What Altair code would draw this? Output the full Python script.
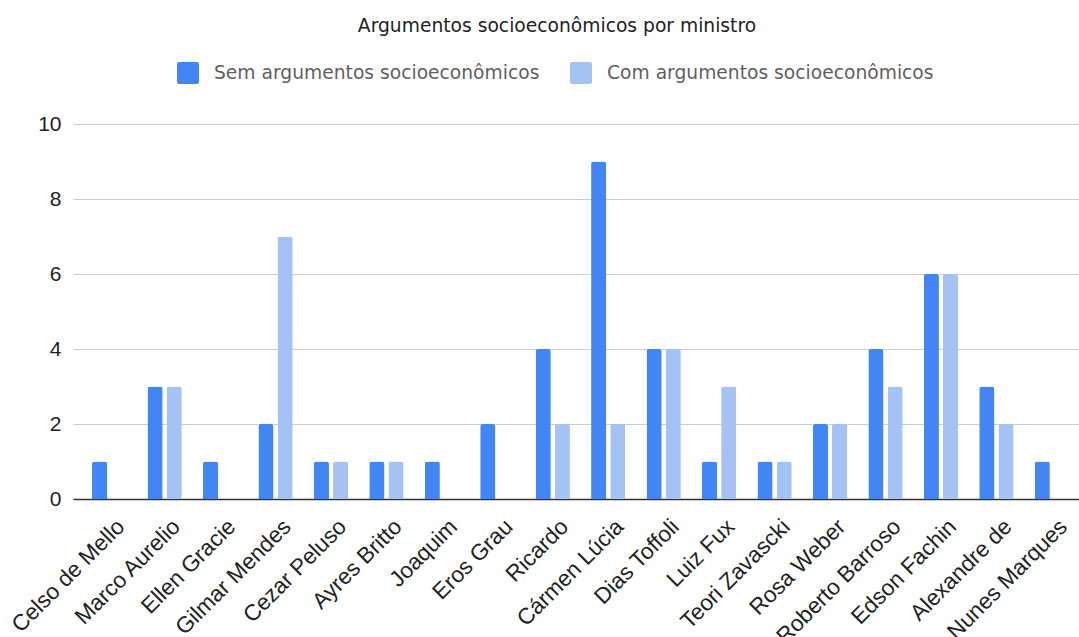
import altair as alt
import pandas as pd

ministros = [
    "Celso de Mello", "Marco Aurelio", "Ellen Gracie", "Gilmar Mendes",
    "Cezar Peluso", "Ayres Britto", "Joaquim", "Eros Grau", "Ricardo",
    "Cármen Lúcia", "Dias Toffoli", "Luiz Fux", "Teori Zavascki",
    "Rosa Weber", "Roberto Barroso", "Edson Fachin", "Alexandre de",
    "Nunes Marques",
]
sem_args = [1, 3, 1, 2, 1, 1, 1, 2, 4, 9, 4, 1, 1, 2, 4, 6, 3, 1]
com_args = [0, 3, 0, 7, 1, 1, 0, 0, 2, 2, 4, 3, 1, 2, 3, 6, 2, 0]
series = ["Sem argumentos socioeconômicos", "Com argumentos socioeconômicos"]
colors = ["#4285F4", "#A4C2F4"]
y_ticks = [0, 2, 4, 6, 8, 10]

rows = []
for nome, s, c in zip(ministros, sem_args, com_args):
    rows.append({"ministro": nome, "serie": series[0], "valor": s})
    rows.append({"ministro": nome, "serie": series[1], "valor": c})
df = pd.DataFrame(rows)

# rounded square used as the legend swatch
swatch = ("M-0.8,-1 L0.8,-1 Q1,-1 1,-0.8 L1,0.8 Q1,1 0.8,1 L-0.8,1 "
          "Q-1,1 -1,0.8 L-1,-0.8 Q-1,-1 -0.8,-1 Z")

label_font = "Liberation Sans"
title_font = "DejaVu Sans"

chart = alt.Chart(df).mark_bar(
    cornerRadiusTopLeft=2.5, cornerRadiusTopRight=2.5
).encode(
    x=alt.X(
        "ministro:N",
        sort=ministros,
        title=None,
        scale=alt.Scale(paddingInner=0.3815, paddingOuter=0.343, range=[0, 1015]),
        axis=alt.Axis(
            labelAngle=-45, labelAlign="right", labelBaseline="top",
            labelFont=label_font, labelFontSize=22.5, labelColor="#222222",
            labelPadding=16, labelOffset=4, labelLimit=400,
            ticks=False, grid=False,
            domainColor="#333333", domainWidth=1.7,
        ),
    ),
    xOffset=alt.XOffset(
        "serie:N", sort=series,
        scale=alt.Scale(paddingInner=0.209, paddingOuter=0),
    ),
    y=alt.Y(
        "valor:Q",
        title=None,
        scale=alt.Scale(domain=[0, 10], nice=False),
        axis=alt.Axis(
            values=y_ticks, labelFont=label_font, labelFontSize=21,
            labelColor="#222222", labelPadding=12, ticks=False, domain=False,
            gridColor="#cccccc", gridWidth=1.2,
        ),
    ),
    color=alt.Color(
        "serie:N", sort=series,
        scale=alt.Scale(domain=series, range=colors),
        legend=alt.Legend(
            title=None, orient="none", direction="horizontal",
            legendX=104, legendY=-62,
            symbolType=swatch, symbolSize=484, symbolStrokeWidth=0,
            labelFont=title_font, labelFontSize=18.7, labelColor="#5f5f5f",
            labelOffset=15, columnPadding=30, labelLimit=500, padding=0,
        ),
    ),
).properties(
    width=1006,
    height=375,
    title=alt.TitleParams(
        "Argumentos socioeconômicos por ministro",
        font=title_font, fontSize=18.7, fontWeight="normal", color="#222222",
        anchor="middle", dx=-19, offset=11, baseline="alphabetic",
    ),
    padding={"left": 73, "top": 124, "right": 0, "bottom": 138},
    autosize=alt.AutoSizeParams(type="none"),
).configure_view(stroke=None)

chart.save("out.html", embed_options={"renderer": "svg", "actions": False})
